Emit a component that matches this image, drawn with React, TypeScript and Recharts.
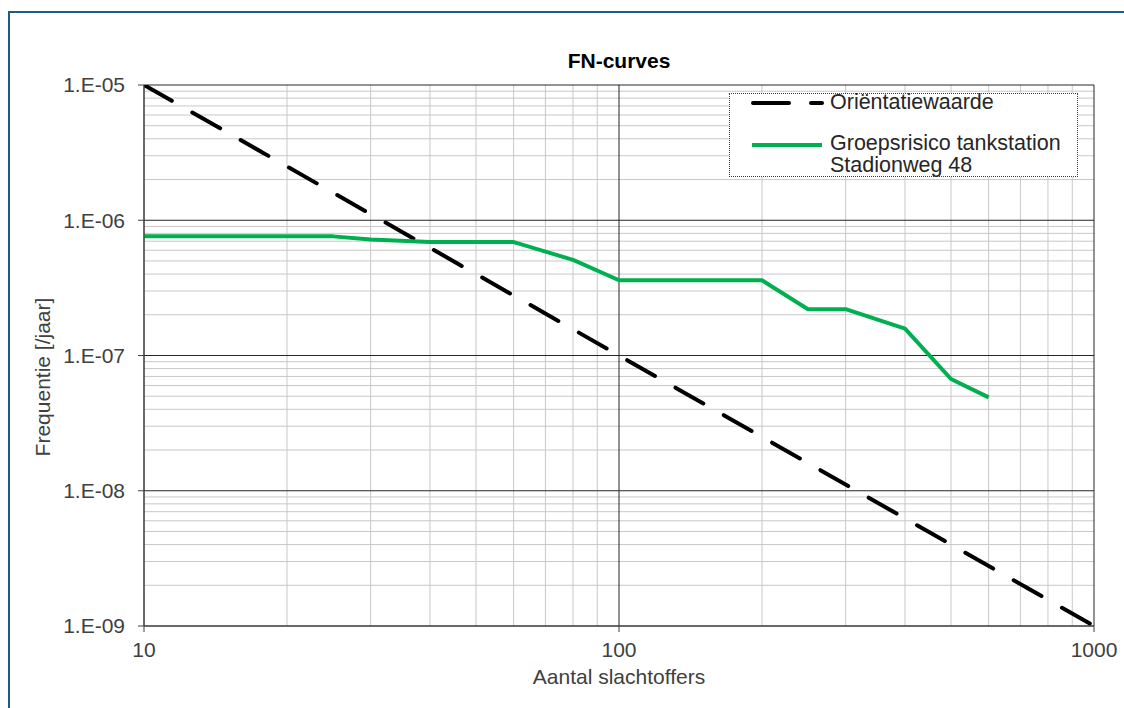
import React from 'react';
import { LineChart, Line, XAxis, YAxis, ReferenceLine, Legend } from 'recharts';

// Aantal slachtoffers (N) and frequentie (F) per series
const orientatieN = [10, 1000];
const orientatieF = [1e-5, 1e-9];

const groepN = [10, 25, 30, 40, 60, 80, 100, 200, 250, 300, 400, 500, 600];
const groepF = [7.6e-7, 7.6e-7, 7.2e-7, 6.9e-7, 6.9e-7, 5.1e-7, 3.6e-7, 3.6e-7, 2.2e-7, 2.2e-7, 1.58e-7, 6.7e-8, 4.9e-8];

const xTicks = [10, 100, 1000];
const yTicks = [1e-9, 1e-8, 1e-7, 1e-6, 1e-5];
const minorSteps = [2, 3, 4, 5, 6, 7, 8, 9];
const xDecades = [10, 100];
const yDecades = [1e-9, 1e-8, 1e-7, 1e-6];

const xMinor = xDecades.flatMap(d => minorSteps.map(m => m * d));
const yMinor = yDecades.flatMap(d => minorSteps.map(m => m * d));

const orientatieData = orientatieN.map((x, i) => ({ x, y: orientatieF[i] }));
const groepData = groepN.map((x, i) => ({ x, y: groepF[i] }));

const FONT = '"Liberation Sans", Arial, sans-serif';
const GREEN = '#00B050';
const TEXT = '#404040';
const FS = 21;

const fmtY = (v: number) => {
  const e = Math.round(-Math.log10(v));
  return '1.E-' + String(e).padStart(2, '0');
};

const LegendBox = () => (
  <div
    style={{
      position: 'relative',
      width: 349,
      height: 84,
      boxSizing: 'border-box',
      border: '1px dotted #404040',
      background: '#fff',
      fontFamily: FONT,
      fontSize: 21.5,
      color: '#262626',
    }}
  >
    <svg width={80} height={8} style={{ position: 'absolute', left: 19, top: 5 }}>
      <line x1={4} y1={4} x2={73} y2={4} stroke="#000" strokeWidth={4} strokeDasharray="36 22" strokeLinecap="round" />
    </svg>
    <div style={{ position: 'absolute', left: 100, top: -2, lineHeight: '21px', whiteSpace: 'nowrap' }}>Oriëntatiewaarde</div>
    <svg width={80} height={8} style={{ position: 'absolute', left: 19, top: 47 }}>
      <line x1={3} y1={4} x2={73} y2={4} stroke={GREEN} strokeWidth={4} />
    </svg>
    <div style={{ position: 'absolute', left: 100, top: 39, lineHeight: '21px', whiteSpace: 'nowrap' }}>
      Groepsrisico tankstation
    </div>
    <div style={{ position: 'absolute', left: 100, top: 61, lineHeight: '21px', whiteSpace: 'nowrap' }}>
      Stadionweg 48
    </div>
  </div>
);

export default function App() {
  return (
    <div
      style={{
        position: 'fixed',
        left: 8,
        top: 8,
        width: 1116,
        height: 700,
        overflow: 'hidden',
        fontFamily: FONT,
        background: '#fff',
      }}
    >
      <div
        style={{
          position: 'absolute',
          left: 0,
          top: 3,
          right: -10,
          bottom: -10,
          borderTop: '2px solid #1F5C85',
          borderLeft: '2px solid #1F5C85',
        }}
      />
      <div
        style={{
          position: 'absolute',
          left: 411,
          top: 42,
          width: 400,
          textAlign: 'center',
          fontWeight: 'bold',
          fontSize: FS,
          lineHeight: '21px',
          color: '#000',
        }}
      >
        FN-curves
      </div>
      <div
        style={{
          position: 'absolute',
          left: 411,
          top: 658,
          width: 400,
          textAlign: 'center',
          fontSize: FS,
          lineHeight: '21px',
          color: TEXT,
        }}
      >
        Aantal slachtoffers
      </div>
      <div
        style={{
          position: 'absolute',
          left: -115,
          top: 357,
          width: 300,
          height: 24,
          lineHeight: '24px',
          textAlign: 'center',
          fontSize: FS,
          color: TEXT,
          transform: 'rotate(-90deg)',
        }}
      >
        Frequentie [/jaar]
      </div>
      <LineChart width={1116} height={700} margin={{ top: 77, right: 30, bottom: 0, left: 0 }}>
        {xMinor.map(v => (
          <ReferenceLine key={'xm' + v} x={v} stroke="#C8C8C8" strokeWidth={1} />
        ))}
        {yMinor.map(v => (
          <ReferenceLine key={'ym' + v} y={v} stroke="#C8C8C8" strokeWidth={1} />
        ))}
        {xTicks.map(v => (
          <ReferenceLine key={'xM' + v} x={v} stroke="#262626" strokeWidth={1} />
        ))}
        {yTicks.map(v => (
          <ReferenceLine key={'yM' + v} y={v} stroke="#262626" strokeWidth={1} />
        ))}
        <XAxis
          dataKey="x"
          type="number"
          scale="log"
          domain={[10, 1000]}
          ticks={xTicks}
          interval={0}
          allowDataOverflow
          height={82}
          tickSize={6}
          tickMargin={10}
          stroke="#404040"
          tick={{ fill: TEXT, fontSize: FS, fontFamily: FONT }}
        />
        <XAxis
          xAxisId="minor"
          type="number"
          scale="log"
          domain={[10, 1000]}
          ticks={xMinor}
          interval={0}
          allowDataOverflow
          mirror
          height={0}
          tickSize={4}
          tick={false}
          axisLine={false}
          stroke="#404040"
        />
        <YAxis
          type="number"
          scale="log"
          domain={[1e-9, 1e-5]}
          ticks={yTicks}
          interval={0}
          allowDataOverflow
          width={136}
          tickSize={6}
          tickMargin={13}
          tickFormatter={fmtY}
          stroke="#404040"
          tick={{ fill: TEXT, fontSize: FS, fontFamily: FONT }}
        />
        <YAxis
          yAxisId="minor"
          type="number"
          scale="log"
          domain={[1e-9, 1e-5]}
          ticks={yMinor}
          interval={0}
          allowDataOverflow
          mirror
          width={0}
          tickSize={4}
          tick={false}
          axisLine={false}
          stroke="#404040"
        />
        <Line
          data={orientatieData}
          dataKey="y"
          name="Oriëntatiewaarde"
          type="linear"
          stroke="#000"
          strokeWidth={4}
          strokeDasharray="32 23.6"
          strokeLinecap="round"
          dot={false}
          activeDot={false}
          isAnimationActive={false}
        />
        <Line
          data={groepData}
          dataKey="y"
          name="Groepsrisico tankstation Stadionweg 48"
          type="linear"
          stroke={GREEN}
          strokeWidth={4}
          strokeLinejoin="round"
          dot={false}
          activeDot={false}
          isAnimationActive={false}
        />
        <Legend
          layout="vertical"
          align="center"
          verticalAlign="middle"
          content={() => <LegendBox />}
          wrapperStyle={{ position: 'absolute', left: 721, top: 85, width: 349, height: 84 }}
        />
      </LineChart>
    </div>
  );
}
